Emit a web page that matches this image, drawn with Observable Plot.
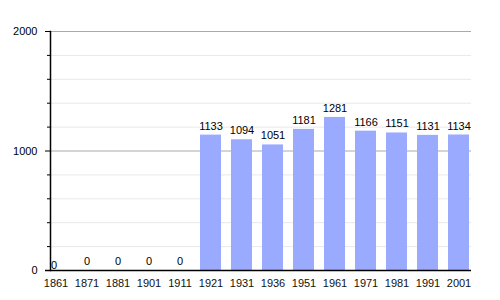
<!DOCTYPE html>
<html>
<head>
<meta charset="utf-8">
<script src="https://cdn.jsdelivr.net/npm/d3@7"></script>
<script src="https://cdn.jsdelivr.net/npm/@observablehq/plot@0.6"></script>
<style>
  html, body { margin: 0; padding: 0; background: #fff; }
  svg { display: block; }
</style>
</head>
<body>
<div id="chart"></div>
<script>
const years = ["1861","1871","1881","1901","1911","1921","1931","1936","1951","1961","1971","1981","1991","2001"];
const population = [0,0,0,0,0,1133,1094,1051,1181,1281,1166,1151,1131,1134];
const majorTicks = [0, 1000, 2000];
const minorTicks = [200, 400, 600, 800, 1200, 1400, 1600, 1800];

const data = years.map((y, i) => ({year: y, value: population[i], first: i === 0}));
const font = "Liberation Sans, Arial, Helvetica, sans-serif";

const chart = Plot.plot({
  width: 500,
  height: 300,
  marginTop: 31,
  marginBottom: 30,
  marginLeft: 50,
  marginRight: 29,
  style: {fontFamily: font, fontSize: "11px", background: "#fff"},
  x: {domain: years, range: [44, 471], paddingInner: 0.32, paddingOuter: 0, axis: null},
  y: {domain: [0, 2000], axis: null},
  marks: [
    Plot.ruleY(minorTicks, {stroke: "#e8e8e8", strokeWidth: 1}),
    Plot.ruleY([1000, 2000], {stroke: "#aaaaaa", strokeWidth: 1}),
    Plot.barY(data, {x: "year", y: "value", fill: "#9aabff"}),
    Plot.axisY({ticks: minorTicks, tickSize: 3, tickFormat: () => "", stroke: "#000", anchor: "left", label: null}),
    Plot.axisY({ticks: majorTicks, tickSize: 5, tickPadding: 8, tickFormat: d3.format("d"), stroke: "#000", fill: "#000", anchor: "left", label: null, fontSize: 11}),
    Plot.frame({anchor: "left", stroke: "#000", strokeWidth: 1.5}),
    Plot.ruleY([0], {insetLeft: -5, stroke: "#000", strokeWidth: 1.5}),
    Plot.axisX({tickSize: 0, tickPadding: 9, fill: "#111", label: null, fontSize: 11}),
    Plot.text(data.filter(d => !d.first), {x: "year", y: "value", text: d => String(d.value), dy: -9, fill: "#000", fontSize: 11}),
    Plot.text(data.filter(d => d.first), {x: "year", y: "value", text: d => String(d.value), dy: -5, dx: -2, fill: "#000", fontSize: 11})
  ]
});
document.getElementById("chart").appendChild(chart);
</script>
</body>
</html>
